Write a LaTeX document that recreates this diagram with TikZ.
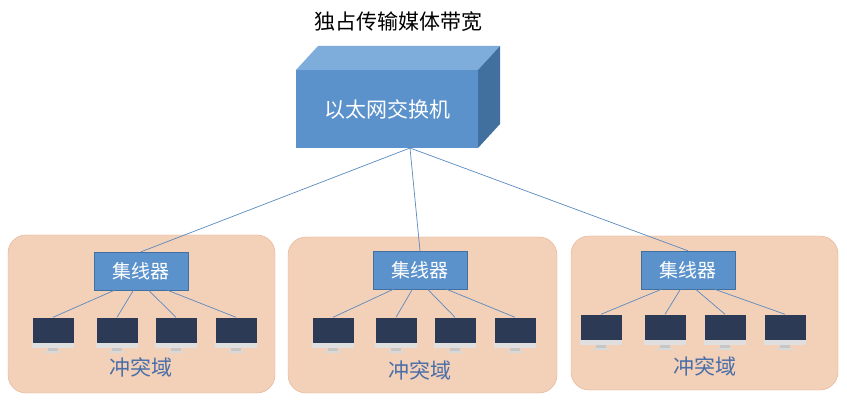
\documentclass[tikz,border=0pt]{standalone}
\usepackage{fontspec}
\usetikzlibrary{calc}
\newfontfamily\cjk{Noto Sans CJK SC}
\definecolor{swf}{HTML}{5B92CB}
\definecolor{swt}{HTML}{7EADDB}
\definecolor{sws}{HTML}{41709E}
\definecolor{dom}{HTML}{F3D0B8}
\definecolor{domb}{HTML}{E5AE90}
\definecolor{scr}{HTML}{2C3A55}
\definecolor{lnk}{HTML}{5A8AC0}
\definecolor{lbl}{HTML}{4A6EA8}
\begin{document}
\begin{tikzpicture}[x=1pt,y=-1pt,
  dombox/.style={draw=domb,fill=dom,rounded corners=18pt},
  hub/.style={draw=sws,fill=swf,minimum width=94pt,minimum height=38pt,inner sep=0pt,font=\cjk\fontsize{19}{19}\selectfont,text=white},
  mon/.style={fill=scr,minimum width=41pt,minimum height=25pt,inner sep=0pt},
  lk/.style={draw=lnk,line width=0.7pt},
  dl/.style={font=\cjk\fontsize{21}{21}\selectfont,text=lbl}]
\fill[white] (0,0) rectangle (847,401);
\useasboundingbox (0,0) rectangle (847,401);
\node[font=\cjk\fontsize{21}{21}\selectfont] (title) at (398,22) {独占传输媒体带宽};
% switch
\fill[swt] (296,70) -- (318,46) -- (500,46) -- (478,70) -- cycle;
\fill[sws] (478,70) -- (500,46) -- (500,124) -- (478,148) -- cycle;
\node[fill=swf,minimum width=182pt,minimum height=78pt,inner sep=0pt,font=\cjk\fontsize{21}{21}\selectfont,text=white] (sw) at (387,109) {以太网交换机};
\coordinate (swb) at (410,148);
\draw[dombox] (8,235) rectangle (275,393);
\draw[dombox] (288,237) rectangle (557,393);
\draw[dombox] (571,236) rectangle (838,390);
\node[hub] (h1) at (141,271) {集线器};
\node[hub] (h2) at (420,270) {集线器};
\node[hub] (h3) at (688,270) {集线器};
\draw[lk] (swb) -- (h1.north);
\draw[lk] (swb) -- (h2.north);
\draw[lk] (swb) -- (h3.north);
\foreach \h/\a/\b/\c/\d/\y in {h1/53/117/176/236/330, h2/333/396/455/515/330, h3/601/665/725/785/327}{
  \foreach \m [count=\i] in {\a,\b,\c,\d}{
    \fill[gray!25] (\m-21,\y+12) rectangle (\m+21,\y+18);
    \fill[gray!45] (\m-5,\y+18) rectangle (\m+5,\y+21);
    \fill[gray!30] (\m-8,\y+21) rectangle (\m+8,\y+23);
    \node[mon] (\h m\i) at (\m,\y) {};
  }
  \draw[lk] ($(\h.south west)!0.22!(\h.south east)$) -- (\h m1.north);
  \draw[lk] ($(\h.south west)!0.42!(\h.south east)$) -- (\h m2.north);
  \draw[lk] ($(\h.south west)!0.58!(\h.south east)$) -- (\h m3.north);
  \draw[lk] ($(\h.south west)!0.78!(\h.south east)$) -- (\h m4.north);
}
\node[dl] (d1) at (141,367) {冲突域};
\node[dl] (d2) at (420,370) {冲突域};
\node[dl] (d3) at (705,366) {冲突域};
\end{tikzpicture}
\end{document}
